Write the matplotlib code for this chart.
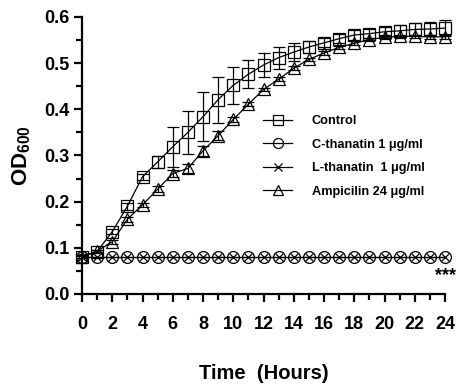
import matplotlib
matplotlib.use("Agg")
import matplotlib.pyplot as plt
import numpy as np
from matplotlib.ticker import MultipleLocator
from matplotlib.lines import Line2D

plt.rcParams['font.family'] = ['Liberation Sans', 'DejaVu Sans']
plt.rcParams['font.weight'] = 'bold'
plt.rcParams['mathtext.fontset'] = 'custom'
plt.rcParams['mathtext.rm'] = 'Liberation Sans:bold'
plt.rcParams['mathtext.bf'] = 'Liberation Sans:bold'
plt.rcParams['mathtext.default'] = 'bf'

hours = list(range(0, 25))
control = [0.081, 0.092, 0.135, 0.19, 0.254, 0.286, 0.319, 0.350, 0.384, 0.421,
           0.452, 0.476, 0.496, 0.512, 0.524, 0.535, 0.544, 0.553, 0.561, 0.564,
           0.568, 0.570, 0.573, 0.574, 0.576]
control_err = [0.003, 0.004, 0.006, 0.008, 0.006, 0.012, 0.043, 0.047, 0.053, 0.05,
               0.04, 0.03, 0.025, 0.024, 0.02, 0.013, 0.01, 0.01, 0.01, 0.01,
               0.01, 0.012, 0.015, 0.015, 0.017]
c_thanatin = [0.081] * 25
l_thanatin = [0.081] * 25
ampicilin = [0.081, 0.093, 0.113, 0.162, 0.193, 0.227, 0.261, 0.272, 0.310, 0.343,
             0.378, 0.411, 0.443, 0.465, 0.489, 0.508, 0.522, 0.534, 0.543, 0.551,
             0.556, 0.558, 0.558, 0.557, 0.557]
ampicilin_err = [0.002, 0.003, 0.004, 0.005, 0.005, 0.006, 0.008, 0.01, 0.01, 0.01,
                 0.005, 0.004, 0.004, 0.004, 0.004, 0.004, 0.004, 0.004, 0.004, 0.004,
                 0.004, 0.004, 0.004, 0.004, 0.004]
labels = ['Control', 'C-thanatin 1 \u03bcg/ml', 'L-thanatin  1 \u03bcg/ml', 'Ampicilin 24 \u03bcg/ml']

fig = plt.figure(figsize=(4.57, 3.86), dpi=100)
ax = fig.add_axes([82/457, 1-294/386, (445-82)/457, (294-17)/386])

lw = 0.9
ms = 8.5
ax.errorbar(hours, control, yerr=control_err, color='black', lw=lw, marker='s', ms=ms,
            mfc='none', mec='black', mew=lw, capsize=4.5, elinewidth=lw, capthick=lw,
            clip_on=False, zorder=3)
ax.plot(hours, c_thanatin, color='black', lw=lw, marker='o', ms=ms, mfc='none', mew=lw,
        clip_on=False, zorder=3)
ax.plot(hours, l_thanatin, color='black', lw=lw, marker='x', ms=ms*0.65, mew=lw,
        clip_on=False, zorder=3)
ax.errorbar(hours, ampicilin, yerr=ampicilin_err, color='black', lw=lw, marker='^', ms=ms+0.5,
            mfc='none', mec='black', mew=lw, capsize=4.5, elinewidth=lw, capthick=lw,
            clip_on=False, zorder=3)

ax.text(24.75, 0.04, '***', ha='right', va='center', fontsize=13, fontweight='bold')

ax.set_xlim(0, 24)
ax.set_ylim(0, 0.6)
ax.xaxis.set_major_locator(MultipleLocator(2))
ax.xaxis.set_minor_locator(MultipleLocator(1))
ax.yaxis.set_major_locator(MultipleLocator(0.1))
ax.yaxis.set_minor_locator(MultipleLocator(0.05))
ax.yaxis.set_major_formatter(matplotlib.ticker.FormatStrFormatter('%.1f'))

for s in ['top', 'right']:
    ax.spines[s].set_visible(False)
for s in ['left', 'bottom']:
    ax.spines[s].set_linewidth(1.6)

ax.tick_params(which='major', direction='out', length=6, width=1.6, labelsize=13, pad=3)
ax.tick_params(which='minor', direction='out', length=4, width=1.6)
ax.tick_params(axis='x', which='major', pad=10)
for lab in ax.get_xticklabels() + ax.get_yticklabels():
    lab.set_fontweight('bold')

ax.set_xlabel('Time  (Hours)', fontsize=14.5, fontweight='bold', labelpad=22)
ax.set_ylabel('OD$_{600}$', fontsize=16, fontweight='bold', labelpad=8)

mk = [('s', ms * 0.85), ('o', ms * 0.85), ('x', ms * 0.6), ('^', ms * 0.9)]
handles = [Line2D([], [], color='black', lw=lw, marker=m, ms=s, mfc='none', mec='black', mew=lw)
           for m, s in mk]
leg = ax.legend(handles, labels, loc='upper left', bbox_to_anchor=(258/457, 1-110/386),
                bbox_transform=fig.transFigure, frameon=False, fontsize=9.2,
                handlelength=2.3, handletextpad=1.5, labelspacing=0.9, borderaxespad=0)
for t in leg.get_texts():
    t.set_fontweight('bold')

fig.savefig('out.png', dpi=100)
